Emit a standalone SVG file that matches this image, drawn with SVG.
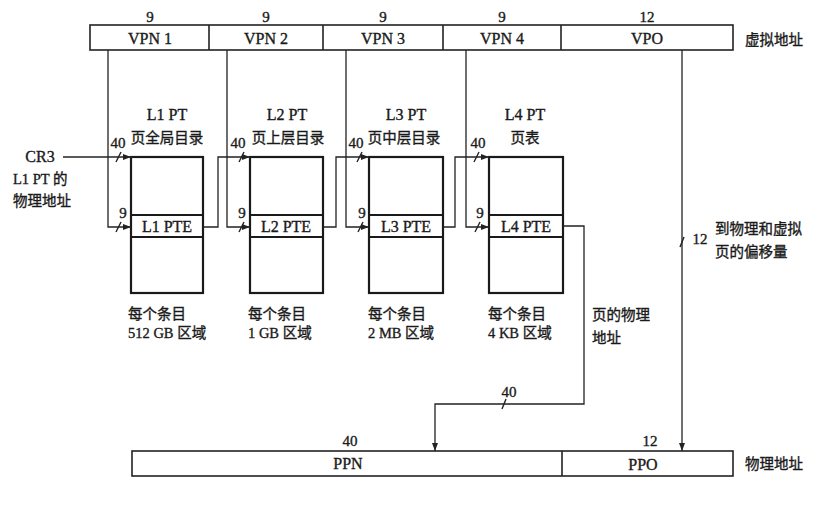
<svg xmlns="http://www.w3.org/2000/svg" width="832" height="507" viewBox="0 0 832 507">
<defs>
<style>
text{font-family:"Liberation Serif","Noto Sans CJK SC",serif;fill:#1a1a1a;stroke:#1a1a1a;stroke-width:0.35;}
.t{font-size:16px;}
.n{font-size:15px;}
.c{font-size:14.5px;}
.m{text-anchor:middle;}
.bar{fill:#fff;stroke:#222;stroke-width:1.6;}
.box{fill:#fff;stroke:#1a1a1a;stroke-width:2.2;}
.cn{fill:none;stroke:#222;stroke-width:1.3;}
.sl{stroke:#222;stroke-width:1.4;}
</style>
<marker id="ah" viewBox="0 0 8 6" refX="8" refY="3" markerWidth="8" markerHeight="6" orient="auto" markerUnits="userSpaceOnUse">
<path d="M0,0 L8,3 L0,6 Z" fill="#222"/>
</marker>
</defs>
<rect width="832" height="507" fill="#fff"/>

<g id="virtual-address">
<rect class="bar" x="90" y="25" width="643" height="25"/>
<line class="bar" x1="209" y1="25" x2="209" y2="50"/>
<line class="bar" x1="323" y1="25" x2="323" y2="50"/>
<line class="bar" x1="443" y1="25" x2="443" y2="50"/>
<line class="bar" x1="561" y1="25" x2="561" y2="50"/>
<text class="n m" x="150" y="22">9</text>
<text class="n m" x="266" y="22">9</text>
<text class="n m" x="383" y="22">9</text>
<text class="n m" x="502" y="22">9</text>
<text class="n m" x="647" y="22">12</text>
<text class="t m" x="150" y="44">VPN 1</text>
<text class="t m" x="266" y="44">VPN 2</text>
<text class="t m" x="383" y="44">VPN 3</text>
<text class="t m" x="502" y="44">VPN 4</text>
<text class="t m" x="647" y="44">VPO</text>
<text class="c" x="745" y="45">虚拟地址</text>
</g>

<g id="cr3">
<text class="t m" x="40" y="162">CR3</text>
<text class="c" x="13" y="184">L1 PT 的</text>
<text class="c" x="13" y="206">物理地址</text>
</g>

<g id="l1">
<text class="t m" x="167" y="120">L1 PT</text>
<text class="c m" x="167" y="143">页全局目录</text>
<rect class="box" x="131" y="157" width="72" height="136"/>
<line class="box" x1="131" y1="215" x2="203" y2="215"/>
<line class="box" x1="131" y1="237" x2="203" y2="237"/>
<text class="t m" x="167" y="232">L1 PTE</text>
<text class="c" x="128" y="319">每个条目</text>
<text class="c" x="128" y="338">512 GB 区域</text>
</g>

<g id="l2">
<text class="t m" x="287" y="120">L2 PT</text>
<text class="c m" x="288" y="143">页上层目录</text>
<rect class="box" x="250" y="157" width="73" height="136"/>
<line class="box" x1="250" y1="215" x2="323" y2="215"/>
<line class="box" x1="250" y1="237" x2="323" y2="237"/>
<text class="t m" x="286" y="232">L2 PTE</text>
<text class="c" x="248" y="319">每个条目</text>
<text class="c" x="248" y="338">1 GB 区域</text>
</g>

<g id="l3">
<text class="t m" x="406" y="120">L3 PT</text>
<text class="c m" x="404" y="143">页中层目录</text>
<rect class="box" x="369" y="157" width="74" height="136"/>
<line class="box" x1="369" y1="215" x2="443" y2="215"/>
<line class="box" x1="369" y1="237" x2="443" y2="237"/>
<text class="t m" x="406" y="232">L3 PTE</text>
<text class="c" x="368" y="319">每个条目</text>
<text class="c" x="368" y="338">2 MB 区域</text>
</g>

<g id="l4">
<text class="t m" x="525" y="120">L4 PT</text>
<text class="c m" x="525" y="143">页表</text>
<rect class="box" x="489" y="157" width="74" height="136"/>
<line class="box" x1="489" y1="215" x2="563" y2="215"/>
<line class="box" x1="489" y1="237" x2="563" y2="237"/>
<text class="t m" x="526" y="232">L4 PTE</text>
<text class="c" x="488" y="319">每个条目</text>
<text class="c" x="488" y="338">4 KB 区域</text>
</g>

<g id="physical-address">
<rect class="bar" x="132" y="451" width="601" height="25"/>
<line class="bar" x1="562" y1="451" x2="562" y2="476"/>
<text class="n m" x="350" y="446">40</text>
<text class="n m" x="650" y="446">12</text>
<text class="t m" x="348" y="469">PPN</text>
<text class="t m" x="643" y="470">PPO</text>
<text class="c" x="745" y="469">物理地址</text>
</g>

<g id="connectors">
<path class="cn" d="M108,50 V227 H131" marker-end="url(#ah)"/>
<path class="cn" d="M63,157 H131" marker-end="url(#ah)"/>
<path class="cn" d="M203,227 H218 V157 H250" marker-end="url(#ah)"/>
<path class="cn" d="M227,50 V227 H250" marker-end="url(#ah)"/>
<path class="cn" d="M323,227 H336 V157 H369" marker-end="url(#ah)"/>
<path class="cn" d="M346,50 V227 H369" marker-end="url(#ah)"/>
<path class="cn" d="M443,227 H455 V157 H489" marker-end="url(#ah)"/>
<path class="cn" d="M466,50 V227 H489" marker-end="url(#ah)"/>
<path class="cn" d="M563,226 H584 V404 H435 V451" marker-end="url(#ah)"/>
<path class="cn" d="M682,50 V451" marker-end="url(#ah)"/>
<line class="sl" x1="116" y1="162" x2="121" y2="152"/>
<line class="sl" x1="116" y1="232" x2="121" y2="222"/>
<line class="sl" x1="239" y1="162" x2="244" y2="152"/>
<line class="sl" x1="239" y1="232" x2="244" y2="222"/>
<line class="sl" x1="357" y1="162" x2="362" y2="152"/>
<line class="sl" x1="358" y1="232" x2="363" y2="222"/>
<line class="sl" x1="474" y1="162" x2="479" y2="152"/>
<line class="sl" x1="475" y1="232" x2="480" y2="222"/>
<line class="sl" x1="502" y1="409" x2="506" y2="399"/>
<line class="sl" x1="680" y1="247" x2="684" y2="237"/>
<text class="n m" x="118" y="148">40</text>
<text class="n m" x="123" y="218">9</text>
<text class="n m" x="238" y="148">40</text>
<text class="n m" x="242" y="218">9</text>
<text class="n m" x="356" y="148">40</text>
<text class="n m" x="362" y="218">9</text>
<text class="n m" x="478" y="148">40</text>
<text class="n m" x="480" y="218">9</text>
<text class="n m" x="509" y="397">40</text>
<text class="n m" x="700" y="244">12</text>
<text class="c" x="715" y="234">到物理和虚拟</text>
<text class="c" x="715" y="257">页的偏移量</text>
<text class="c" x="592" y="320">页的物理</text>
<text class="c" x="592" y="343">地址</text>
</g>
</svg>
